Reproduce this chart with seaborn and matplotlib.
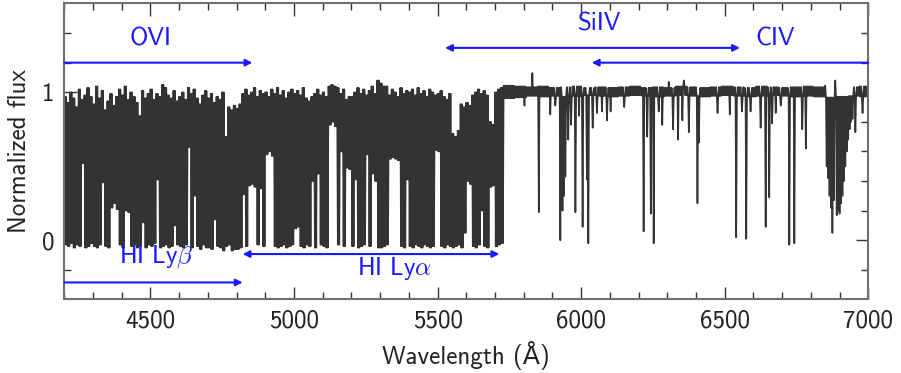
import numpy as np
import pandas as pd
import matplotlib
matplotlib.use("Agg")
import matplotlib.pyplot as plt
import seaborn as sns

# ---------------- data ----------------
# Lyman forest region: upper / lower envelope of the flux in 10 A bins, 4200..5720 A
forest_start = 4200
forest_step = 10
forest_hi = [
    0.97, 0.93, 1.00, 0.96, 0.90, 1.02, 0.95, 0.98, 1.03, 0.97,
    0.92, 1.04, 0.96, 1.01, 0.88, 0.94, 0.99, 0.91, 0.97, 1.02,
    0.98, 1.04, 0.95, 1.00, 0.97, 0.93, 0.84, 1.01, 0.96, 0.99,
    1.02, 0.95, 0.99, 0.97, 1.05, 1.03, 0.98, 0.96, 1.01, 0.94,
    0.97, 1.00, 0.95, 1.03, 0.99, 1.02, 0.96, 0.92, 0.98, 1.01,
    0.96, 0.99, 0.93, 0.97, 0.95, 1.00, 0.70, 0.90, 0.88, 0.91,
    0.89, 0.92, 0.99, 1.02, 0.98, 1.00, 1.03, 0.97, 1.01, 0.99,
    1.00, 0.97, 1.02, 0.99, 1.03, 0.98, 1.01, 0.96, 1.00, 1.02,
    0.99, 1.01, 0.98, 1.03, 0.96, 0.94, 0.97, 0.99, 1.02, 0.98,
    1.00, 0.97, 1.04, 1.05, 1.04, 1.03, 0.99, 1.02, 0.95, 0.97,
    0.97, 1.00, 1.03, 0.99, 1.02, 0.98, 1.01, 1.04, 0.99, 1.08,
    1.06, 1.04, 1.04, 0.98, 1.02, 1.00, 0.97, 1.03, 0.99, 1.01,
    1.00, 1.02, 0.98, 1.03, 0.99, 1.01, 0.97, 1.02, 1.00, 0.98,
    0.99, 1.01, 0.97, 0.95, 0.99, 0.72, 0.70, 0.74, 0.92, 0.90,
    0.93, 0.91, 0.98, 1.00, 1.02, 0.99, 1.01, 0.98, 0.80, 0.78, 1.00, 1.02,
    1.03,
]
forest_lo = [
    -0.03, -0.04, -0.02, -0.05, -0.03, -0.04, 0.52, -0.05, -0.04, -0.02,
    -0.04, -0.05, -0.03, 0.39, -0.04, -0.05, 0.22, 0.25, 0.21, -0.03,
    -0.05, 0.20, 0.19, -0.04, -0.03, -0.05, -0.04, 0.12, -0.05, -0.03,
    -0.04, -0.02, 0.41, -0.05, -0.04, -0.03, -0.05, -0.04, 0.10, -0.03,
    -0.04, -0.05, -0.03, 0.63, -0.05, 0.30, -0.04, -0.06, -0.03, -0.05,
    -0.05, -0.06, 0.14, -0.04, -0.05, -0.07, -0.04, -0.03, -0.07, -0.06,
    -0.06, -0.05, 0.31, -0.04, 0.37, 0.38, 0.36, -0.03, 0.35, -0.04,
    0.58, 0.60, 0.57, -0.04, -0.05, -0.04, -0.03, -0.05, -0.04, -0.03,
    0.08, 0.09, -0.04, -0.05, -0.03, -0.04, 0.40, -0.05, 0.45, -0.03,
    -0.04, -0.05, 0.78, 0.80, 0.77, -0.03, 0.60, -0.04, 0.49, 0.48,
    -0.04, 0.41, -0.05, -0.04, -0.03, 0.58, -0.04, 0.45, 0.40, -0.05,
    -0.05, -0.04, -0.03, 0.55, 0.56, 0.55, 0.54, -0.04, -0.05, 0.41,
    -0.04, -0.05, -0.03, -0.04, -0.05, -0.03, -0.04, -0.05, -0.04, 0.61,
    0.60, -0.04, -0.05, -0.03, -0.04, -0.05, -0.04, -0.03, -0.05, 0.05,
    0.40, 0.38, -0.04, -0.05, -0.03, 0.20, -0.04, -0.05, 0.36, 0.37, -0.04, -0.03,
    -0.02,
]

# red side: continuum noise band in 40 A bins, 5730..7010 A
cont_start = 5730
cont_step = 40
cont_hi = [1.045, 1.04, 1.035, 1.04, 1.03, 1.035, 1.04, 1.03, 1.035, 1.03,
           1.035, 1.04, 1.03, 1.035, 1.03, 1.04, 1.035, 1.03, 1.035, 1.04,
           1.035, 1.03, 1.04, 1.035, 1.03, 1.035, 1.04, 1.035, 1.045, 1.04,
           1.035, 1.04]
cont_lo = [0.96, 0.965, 0.975, 0.97, 0.975, 0.97, 0.975, 0.98, 0.975, 0.97,
           0.975, 0.98, 0.975, 0.97, 0.975, 0.98, 0.975, 0.97, 0.975, 0.98,
           0.975, 0.97, 0.975, 0.98, 0.975, 0.97, 0.975, 0.97, 0.965, 0.97,
           0.975, 0.97]

# narrow absorption lines on the red side: wavelength and minimum flux
line_wave = [5803, 5853, 5893, 5911, 5928, 5934, 5940, 5946, 5954, 5966,
             5980, 5992, 6004, 6021, 6025, 6039, 6056, 6073, 6091, 6102,
             6149, 6218, 6230, 6242, 6253, 6271, 6282, 6306, 6321, 6338,
             6352, 6375, 6405, 6410, 6474, 6518, 6541, 6561, 6575, 6590,
             6625, 6643, 6654, 6666, 6677, 6695, 6724, 6743, 6770, 6782,
             6855, 6860, 6865, 6870, 6875, 6880, 6885, 6890, 6895, 6900,
             6905, 6910, 6915, 6920, 6925, 6930, 6935, 6940, 6945, 6955,
             6979]
line_flux = [0.91, 0.19, 0.85, 0.91, 0.00, 0.20, 0.30, 0.43, 0.68, 0.78,
             0.19, 0.84, 0.09, 0.41, -0.02, 0.76, 0.86, 0.87, 0.81, 0.87,
             0.90, 0.06, 0.70, 0.18, -0.02, 0.87, 0.78, 0.84, 0.75, 0.68,
             0.81, 0.73, 0.25, 0.66, 0.86, 0.85, 0.02, 0.87, 0.01, 0.87,
             0.76, 0.09, 0.29, 0.79, 0.86, 0.91, -0.03, -0.02, 0.75, 0.62,
             0.50, 0.42, 0.30, 0.22, 0.05, 0.27, 0.18, 0.17, 0.20, 0.18,
             0.25, 0.30, 0.40, 0.50, 0.60, 0.68, 0.75, 0.80, 0.82, 0.73,
             0.86]

# upward noise spikes
spike_wave = [5830, 6305, 6358, 6886]
spike_flux = [1.13, 1.07, 1.08, 1.08]

# annotations
region_labels = ["OVI", "SiIV", "CIV", r"HI Ly$\beta$", r"HI Ly$\alpha$"]
label_x = [4500, 6065, 6675, 4520, 5350]
label_y = [1.36, 1.46, 1.36, -0.11, -0.19]
arrow_from = [4200, 5526, 7000, 4200, 4821]
arrow_to = [4855, 6553, 6037, 4821, 5715]
arrow_y = [1.20, 1.30, 1.20, -0.285, -0.093]
arrow_style = ["-|>", "<|-|>", "-|>", "-|>", "<|-|>"]

xticks_major = [4500, 5000, 5500, 6000, 6500, 7000]
yticks_major = [0, 1]

assert len(forest_hi) == len(forest_lo) == 153
assert len(cont_hi) == len(cont_lo) == 32
assert len(line_wave) == len(line_flux)

# ---------------- build the drawn spectrum ----------------
# each envelope bin is drawn as a dense up/down stroke pattern (pixel sampling)
sub = 2.5
wave, flux = [], []
for i, (h, l) in enumerate(zip(forest_hi, forest_lo)):
    w = forest_start + i * forest_step
    for j, v in enumerate([h, l, h, l]):
        wave.append(w + j * sub)
        flux.append(v)

red_w = np.arange(cont_start, 7000 + 0.1, sub)
red_f = []
for k, w in enumerate(red_w):
    b = min(int((w - cont_start) // cont_step), len(cont_hi) - 1)
    red_f.append(cont_hi[b] if k % 2 == 0 else cont_lo[b])
red_f = np.array(red_f)
for w, f in zip(line_wave, line_flux):
    red_f[np.argmin(np.abs(red_w - w))] = f
for w, f in zip(spike_wave, spike_flux):
    red_f[np.argmin(np.abs(red_w - w))] = f
wave += list(red_w)
flux += list(red_f)

df = pd.DataFrame({"wave": wave, "flux": flux})

# ---------------- plot ----------------
sns.set_theme(style="ticks")
plt.rcParams["font.family"] = ["cmss10", "DejaVu Sans"]
plt.rcParams["mathtext.fontset"] = "cm"
plt.rcParams["axes.unicode_minus"] = False
plt.rcParams["axes.formatter.use_mathtext"] = True

fig = plt.figure(figsize=(9.01, 3.73), dpi=100)
ax = fig.add_axes([0.0714, 0.1971, 0.8923, 0.7936])

sns.lineplot(data=df, x="wave", y="flux", sort=False, estimator=None,
             color="#333333", lw=1.2, ax=ax, legend=False)

blue = "#1a1aff"
for txt, tx, ty in zip(region_labels, label_x, label_y):
    ax.text(tx, ty, txt, color=blue, fontsize=18, ha="center", va="center")
for x0, x1, y, st in zip(arrow_from, arrow_to, arrow_y, arrow_style):
    ax.annotate("", xy=(x1, y), xytext=(x0, y),
                arrowprops=dict(arrowstyle=st, color=blue, lw=1.5,
                                shrinkA=0, shrinkB=0, mutation_scale=10))

ax.set_xlim(4200, 7000)
ax.set_ylim(-0.4, 1.6)
ax.set_xticks(xticks_major)
ax.set_xticks(np.arange(4200, 7001, 100), minor=True)
ax.set_yticks(yticks_major)
ax.set_yticks([-0.2, 0.2, 0.4, 0.6, 0.8, 1.2, 1.4], minor=True)
ax.set_xticklabels([str(t) for t in xticks_major])
ax.set_yticklabels([str(t) for t in yticks_major])
ax.tick_params(which="both", direction="in", top=True, right=True,
               color="#333333", width=1.0, labelsize=18, pad=7,
               labelcolor="#222222")
ax.tick_params(which="major", length=9)
ax.tick_params(which="minor", length=5)
for s in ax.spines.values():
    s.set_color("#707070")
    s.set_linewidth(1.5)

ax.set_xlabel("Wavelength (Å)", fontsize=18, labelpad=6, color="#222222")
ax.set_ylabel("Normalized flux", fontsize=18, labelpad=8, color="#222222")

fig.savefig("out.png", dpi=100)
